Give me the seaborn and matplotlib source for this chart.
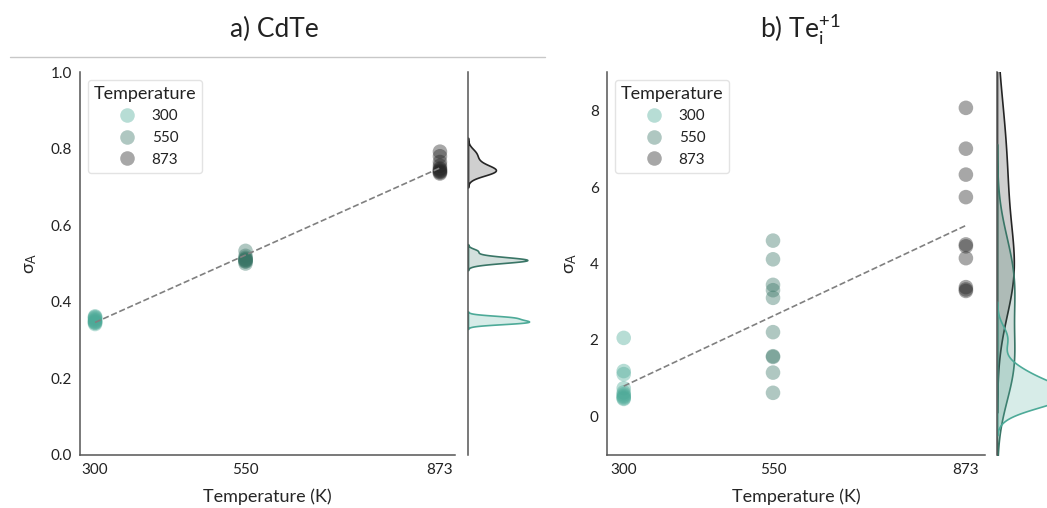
import numpy as np
import pandas as pd
import seaborn as sns
import matplotlib.pyplot as plt
from matplotlib.lines import Line2D

# temperatures (K) and sigma_A values
temps = [300, 550, 873]
cdte_300 = [0.342, 0.345, 0.346, 0.348, 0.350, 0.352, 0.355, 0.358, 0.360, 0.362]
cdte_550 = [0.533, 0.520, 0.515, 0.512, 0.510, 0.510, 0.508, 0.506, 0.505, 0.500]
cdte_873 = [0.792, 0.780, 0.765, 0.755, 0.748, 0.745, 0.742, 0.740, 0.738, 0.735]
tei_300 = [2.05, 1.18, 1.10, 0.73, 0.62, 0.57, 0.53, 0.50, 0.47, 0.45]
tei_550 = [4.60, 4.11, 3.44, 3.30, 3.10, 2.20, 1.57, 1.55, 1.14, 0.61]
tei_873 = [8.08, 7.01, 6.33, 5.74, 4.50, 4.45, 4.14, 3.38, 3.32, 3.28]
colors = ['#4daa98', '#397566', '#252525']


def make_df(groups):
    rows = []
    for t, vals in zip(temps, groups):
        for v in vals:
            rows.append({'Temperature': t, 'sigma': v, 'T': str(t)})
    return pd.DataFrame(rows)


def panel(fig, df, main_rect, marg_rect, ylim, yticks, xlim, marg_scale):
    ax = fig.add_axes(main_rect)
    axm = fig.add_axes(marg_rect, sharey=ax)
    pal = dict(zip([str(t) for t in temps], colors))
    order = [str(t) for t in temps]

    sns.regplot(data=df, x='Temperature', y='sigma', scatter=False, ci=None,
                color='#808080', line_kws=dict(ls='--', lw=1.2), ax=ax)
    sns.scatterplot(data=df, x='Temperature', y='sigma', hue='T', hue_order=order,
                    palette=pal, s=110, alpha=0.4, linewidth=0, ax=ax)
    sns.kdeplot(data=df, y='sigma', hue='T', hue_order=order, palette=pal,
                fill=True, alpha=0.22, linewidth=1.2, legend=False, ax=axm)

    ax.set_xlim(*xlim)
    ax.set_xticks(temps)
    ax.set_ylim(*ylim)
    ax.set_yticks(yticks)
    ax.set_xlabel('Temperature (K)', fontsize=13, labelpad=8)
    ax.set_ylabel('σ$_\\mathregular{A}$', fontsize=13, labelpad=8)
    for s in ['top', 'right']:
        ax.spines[s].set_visible(False)
    for s in ['left', 'bottom']:
        ax.spines[s].set_color('#555555')
        ax.spines[s].set_linewidth(1.1)
    ax.tick_params(direction='in', length=11, width=1, color='#c0c0c0',
                   labelsize=11, pad=6, labelcolor='#222222')

    leg = ax.legend(title='Temperature', loc='upper left', fontsize=11,
                    title_fontsize=13, frameon=True, borderaxespad=0.5,
                    handletextpad=0.6, markerscale=1.0)
    leg.get_frame().set_edgecolor('#dddddd')
    leg.get_frame().set_linewidth(1)

    xmax = axm.get_xlim()[1]
    axm.set_xlim(0, xmax * marg_scale)
    axm.set_xlabel('')
    axm.set_ylabel('')
    axm.set_xticks([])
    for s in ['top', 'right', 'bottom']:
        axm.spines[s].set_visible(False)
    axm.spines['left'].set_color('#555555')
    axm.spines['left'].set_linewidth(1.1)
    axm.tick_params(axis='y', direction='in', length=11, width=1,
                    color='#c0c0c0', labelleft=False)
    return ax, axm


def main():
    sns.set_theme(style='white')
    plt.rcParams['font.family'] = ['Lato', 'DejaVu Sans']
    plt.rcParams['text.color'] = '#222222'
    plt.rcParams['mathtext.fontset'] = 'custom'
    plt.rcParams['mathtext.rm'] = 'Lato'
    plt.rcParams['mathtext.it'] = 'Lato'
    plt.rcParams['mathtext.default'] = 'regular'

    W, H = 1047, 508
    fig = plt.figure(figsize=(W / 100, H / 100), dpi=100)

    def rect(x0, y0, x1, y1):
        return [x0 / W, 1 - y1 / H, (x1 - x0) / W, (y1 - y0) / H]

    df_a = make_df([cdte_300, cdte_550, cdte_873])
    df_b = make_df([tei_300, tei_550, tei_873])

    panel(fig, df_a, rect(80, 72, 455, 455), rect(468, 72, 543, 455),
          (0, 1.0), np.arange(0, 1.01, 0.2), (275, 898), 1.17)
    ax_b, _ = panel(fig, df_b, rect(607, 72, 985, 455), rect(997, 72, 1072, 455),
                    (-1.02, 9.02), [0, 2, 4, 6, 8], (272, 905), 1.0)
    ax_b.set_yticklabels(['0', '2', '4', '6', '8'])

    fig.text(274 / W, 1 - 29 / H, 'a) CdTe', ha='center', va='center', fontsize=19)
    fig.text(800 / W, 1 - 29 / H, 'b) Te$_i^{+1}$', ha='center', va='center', fontsize=19)
    fig.add_artist(Line2D([10 / W, 545 / W], [1 - 57 / H, 1 - 57 / H],
                          color='#c8c8c8', lw=1))

    fig.savefig('out.png', dpi=100)


if __name__ == '__main__':
    main()
